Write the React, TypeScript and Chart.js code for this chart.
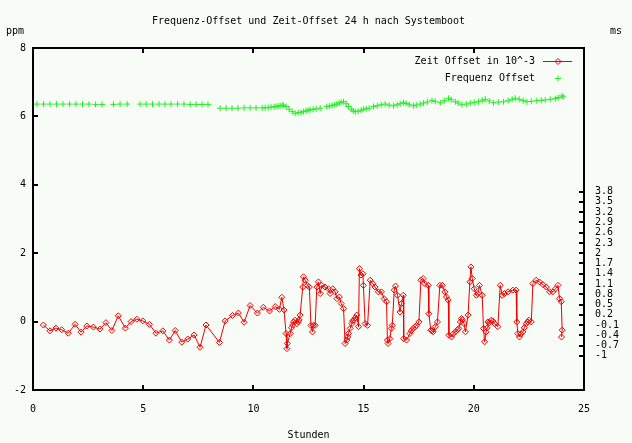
import { useEffect, useRef } from 'react';
import { Chart, registerables } from 'chart.js';

Chart.register(...registerables);

const chartTitle = 'Frequenz-Offset und Zeit-Offset 24 h nach Systemboot';
const xAxisTitle = 'Stunden';
const leftUnit = 'ppm';
const rightUnit = 'ms';
const zeitLabel = 'Zeit Offset in 10^-3';
const freqLabel = 'Frequenz Offset';

const xTicks = [0, 5, 10, 15, 20, 25];
const yTicks = [-2, 0, 2, 4, 6, 8];
const y2Ticks = [-1, -0.7, -0.4, -0.1, 0.2, 0.5, 0.8, 1.1, 1.4, 1.7, 2, 2.3, 2.6, 2.9, 3.2, 3.5, 3.8];

const zeitHours = [
  0.47, 0.77, 1.04, 1.30, 1.60, 1.91, 2.18, 2.44, 2.74, 3.04, 3.31, 3.58, 3.87, 4.19, 4.45, 4.71, 4.98, 5.28, 5.58, 5.89,
  6.19, 6.45, 6.75, 7.02, 7.31, 7.58, 7.85, 8.46, 8.72, 9.05, 9.32, 9.58, 9.85, 10.18, 10.45, 10.73, 10.99, 11.18, 11.29, 11.39,
  11.48, 11.52, 11.54, 11.67, 11.73, 11.78, 11.82, 11.89, 11.97, 12.04, 12.07, 12.12,
  12.24, 12.27, 12.35, 12.45, 12.54,
  12.61, 12.68, 12.72, 12.80,
  12.88, 12.95, 13.03, 13.10, 13.25, 13.40, 13.48, 13.60, 13.71, 13.79, 13.90, 13.98, 14.09,
  14.16, 14.24, 14.28, 14.31, 14.39, 14.47, 14.50, 14.57, 14.62, 14.69, 14.77,
  14.81, 14.88, 14.97, 14.99,
  15.07, 15.18,
  15.30, 15.42, 15.52, 15.67, 15.81, 15.93, 16.04,
  16.08, 16.11, 16.19, 16.26, 16.30,
  16.39, 16.45, 16.54, 16.65, 16.72, 16.80,
  16.82, 16.95, 17.10, 17.16, 17.25, 17.34, 17.40, 17.51,
  17.60, 17.70, 17.78, 17.93,
  17.96, 18.05, 18.11, 18.16, 18.26, 18.35,
  18.46, 18.57, 18.69, 18.76, 18.84,
  18.87, 18.99, 19.07, 19.17, 19.26, 19.32, 19.39, 19.44, 19.48, 19.56, 19.62, 19.74,
  19.82, 19.87, 19.93, 20.02, 20.12, 20.18, 20.26, 20.38,
  20.44, 20.49, 20.56, 20.60, 20.64, 20.70, 20.79, 20.86, 20.94, 21.09,
  21.20, 21.29, 21.39, 21.55, 21.77, 21.92,
  21.95, 22.00, 22.07, 22.15, 22.23, 22.29, 22.38, 22.45, 22.50, 22.61,
  22.68, 22.83, 22.98, 23.14, 23.29, 23.44, 23.59, 23.71, 23.82, 23.89, 23.97,
  24.01, 23.98,
];

const zeitValues = [
  -0.10, -0.27, -0.19, -0.24, -0.34, -0.08, -0.31, -0.13, -0.16, -0.22, -0.03, -0.26, 0.17, -0.19, 0.00, 0.07, 0.02, -0.08, -0.34, -0.27,
  -0.54, -0.26, -0.60, -0.51, -0.39, -0.75, -0.10, -0.61, 0.02, 0.18, 0.25, -0.02, 0.47, 0.25, 0.42, 0.31, 0.44, 0.36, 0.71, 0.34,
  -0.35, -0.79, -0.64, -0.35, -0.18, -0.10, -0.01, 0.04, -0.06, -0.01, 0.05, 0.19,
  1.01, 1.31, 1.21, 1.06, 1.01,
  -0.11, -0.30, -0.11, -0.11,
  1.01, 1.16, 0.82, 1.06, 1.01, 0.96, 0.82, 0.96, 0.87, 0.67, 0.72, 0.53, 0.38,
  -0.64, -0.54, -0.45, -0.35, -0.20, -0.06, 0.02, 0.04, 0.11, 0.19, -0.15,
  1.55, 1.36, 1.40, 1.06,
  -0.06, -0.11,
  1.21, 1.11, 1.01, 0.87, 0.87, 0.67, 0.58,
  -0.54, -0.64, -0.50, -0.20, -0.11,
  0.92, 1.04, 0.77, 0.28, 0.53, 0.77,
  -0.50, -0.54, -0.35, -0.27, -0.20, -0.15, -0.11, -0.01,
  1.21, 1.26, 1.11, 1.06,
  0.23, -0.25, -0.27, -0.30, -0.15, -0.01,
  1.06, 1.06, 0.87, 0.72, 0.63,
  -0.40, -0.45, -0.36, -0.30, -0.24, -0.20, -0.01, 0.09, 0.05, -0.06, -0.30, 0.19,
  1.16, 1.60, 1.26, 0.96, 0.77, 0.82, 1.06, 0.77,
  -0.20, -0.59, -0.30, -0.18, -0.01, -0.03, 0.04, 0.02, -0.06, -0.15,
  1.06, 0.77, 0.82, 0.87, 0.92, 0.92,
  -0.01, -0.35, -0.45, -0.36, -0.30, -0.18, -0.06, -0.01, 0.04, -0.01,
  1.11, 1.21, 1.16, 1.08, 1.01, 0.87, 0.87, 0.96, 1.06, 0.67, 0.58,
  -0.25, -0.45,
];

const freqHours = [
  0.18, 0.48, 0.77, 1.07, 1.36, 1.66, 1.95, 2.25, 2.54, 2.84, 3.13,
  3.65, 3.95, 4.27,
  4.86, 5.13, 5.42, 5.72, 5.99, 6.26, 6.56, 6.85, 7.13, 7.40, 7.67, 7.94,
  8.49, 8.76, 9.03, 9.30, 9.58, 9.85, 10.12, 10.40,
  10.53, 10.67, 10.80, 10.94, 11.03, 11.12, 11.21, 11.30, 11.36, 11.48, 11.62, 11.76, 11.89, 12.03, 12.16, 12.27, 12.39, 12.48,
  12.57, 12.71, 12.85, 13.03,
  13.33, 13.44, 13.57, 13.69, 13.79, 13.89, 13.98, 14.09,
  14.21, 14.31, 14.44, 14.53, 14.62, 14.75, 14.89, 14.99, 15.12, 15.25,
  15.45, 15.62, 15.80, 15.98,
  16.16, 16.36, 16.52, 16.66, 16.81,
  16.93, 17.07, 17.26, 17.39, 17.57, 17.72, 17.89, 18.10,
  18.25, 18.48, 18.66, 18.85,
  18.97, 19.16, 19.29, 19.46,
  19.66, 19.84, 20.02, 20.21, 20.38, 20.52,
  20.70, 20.89, 21.11, 21.35, 21.56, 21.74, 21.88,
  22.06, 22.24, 22.41, 22.61, 22.86, 23.06, 23.24, 23.47, 23.70, 23.83, 24.00, 24.06,
];

const freqValues = [
  6.36, 6.36, 6.36, 6.36, 6.36, 6.36, 6.36, 6.36, 6.36, 6.35, 6.35,
  6.35, 6.36, 6.36,
  6.36, 6.36, 6.36, 6.36, 6.36, 6.36, 6.36, 6.36, 6.35, 6.35, 6.35, 6.35,
  6.24, 6.24, 6.24, 6.24, 6.25, 6.25, 6.25, 6.25,
  6.25, 6.26, 6.27, 6.28, 6.29, 6.30, 6.31, 6.32, 6.33, 6.29, 6.21, 6.14, 6.09, 6.11, 6.12, 6.14, 6.16, 6.18,
  6.19, 6.21, 6.22, 6.24,
  6.29, 6.30, 6.32, 6.34, 6.36, 6.39, 6.41, 6.43,
  6.37, 6.29, 6.21, 6.16, 6.14, 6.15, 6.18, 6.21, 6.22, 6.24,
  6.29, 6.31, 6.34, 6.36,
  6.33, 6.31, 6.34, 6.37, 6.40,
  6.38, 6.34, 6.31, 6.33, 6.36, 6.39, 6.42, 6.46,
  6.44, 6.40, 6.46, 6.53,
  6.49, 6.43, 6.39, 6.34,
  6.36, 6.39, 6.41, 6.43, 6.47, 6.50,
  6.45, 6.40, 6.42, 6.43, 6.46, 6.50, 6.53,
  6.50, 6.46, 6.43, 6.44, 6.46, 6.47, 6.48, 6.50, 6.52, 6.55, 6.60, 6.57,
];

const FONT_FAMILY = '"DejaVu Sans Mono", "Liberation Mono", monospace';
const FONT = `10px ${FONT_FAMILY}`;
const BG = '#f7fcf7';
const RED = '#f00000';
const GREEN = '#22ee22';

function diamond(ctx: CanvasRenderingContext2D, x: number, y: number, r: number) {
  ctx.beginPath();
  ctx.moveTo(x, y - r);
  ctx.lineTo(x + r, y);
  ctx.lineTo(x, y + r);
  ctx.lineTo(x - r, y);
  ctx.closePath();
  ctx.stroke();
}

const decorPlugin = {
  id: 'decor',
  beforeDraw(chart: any) {
    const { ctx, width, height } = chart;
    ctx.save();
    ctx.fillStyle = BG;
    ctx.fillRect(0, 0, width, height);
    ctx.restore();
  },
  afterDatasetsDraw(chart: any) {
    const { ctx, chartArea: a, scales } = chart;
    ctx.save();
    ctx.strokeStyle = '#000';
    ctx.lineWidth = 2;
    ctx.strokeRect(a.left, a.top, a.right - a.left, a.bottom - a.top);
    ctx.beginPath();
    for (const v of xTicks) {
      const px = Math.round(scales.x.getPixelForValue(v));
      ctx.moveTo(px, a.bottom);
      ctx.lineTo(px, a.bottom - 5);
      ctx.moveTo(px, a.top);
      ctx.lineTo(px, a.top + 5);
    }
    for (const v of yTicks) {
      const py = Math.round(scales.y.getPixelForValue(v));
      ctx.moveTo(a.left, py);
      ctx.lineTo(a.left + 5, py);
    }
    for (const v of y2Ticks) {
      const py = Math.round(scales.y2.getPixelForValue(v));
      ctx.moveTo(a.right, py);
      ctx.lineTo(a.right - 5, py);
    }
    ctx.stroke();

    ctx.fillStyle = '#000';
    ctx.font = FONT;
    ctx.textBaseline = 'middle';
    ctx.textAlign = 'center';
    const cx = (a.left + a.right) / 2;
    ctx.fillText(chartTitle, cx, 21);
    ctx.fillText(leftUnit, 15, 31);
    ctx.fillText(rightUnit, 616, 31);
    ctx.fillText(xAxisTitle, cx, 435);

    // legend
    ctx.textAlign = 'right';
    const lx = a.right - 49;
    ctx.fillText(zeitLabel, lx, 61);
    ctx.fillText(freqLabel, lx, 78);
    ctx.strokeStyle = RED;
    ctx.lineWidth = 1;
    ctx.beginPath();
    ctx.moveTo(lx + 8, 61.5);
    ctx.lineTo(lx + 37, 61.5);
    ctx.stroke();
    diamond(ctx, lx + 23, 61.5, 3);
    ctx.strokeStyle = GREEN;
    ctx.beginPath();
    ctx.moveTo(lx + 20, 78.5);
    ctx.lineTo(lx + 26, 78.5);
    ctx.moveTo(lx + 23, 75.5);
    ctx.lineTo(lx + 23, 81.5);
    ctx.stroke();
    ctx.restore();
  },
};

export default function App() {
  const ref = useRef<HTMLCanvasElement | null>(null);

  useEffect(() => {
    if (!ref.current) return;
    const tickFont = { family: FONT_FAMILY, size: 10 };
    const chart = new Chart(ref.current, {
      type: 'scatter',
      data: {
        datasets: [
          {
            label: zeitLabel,
            data: zeitHours.map((x, i) => ({ x, y: zeitValues[i] })),
            showLine: true,
            borderColor: RED,
            borderWidth: 1,
            pointStyle: 'rectRot',
            pointRadius: 3,
            pointBorderColor: RED,
            pointBackgroundColor: 'rgba(0,0,0,0)',
            pointBorderWidth: 1,
            tension: 0,
            yAxisID: 'y',
          },
          {
            label: freqLabel,
            data: freqHours.map((x, i) => ({ x, y: freqValues[i] })),
            showLine: false,
            pointStyle: 'cross',
            pointRadius: 3,
            pointBorderColor: GREEN,
            pointBackgroundColor: GREEN,
            pointBorderWidth: 1,
            yAxisID: 'y',
          },
        ],
      },
      options: {
        responsive: false,
        animation: false,
        devicePixelRatio: 1,
        events: [],
        layout: { padding: { top: 48, left: 0, right: 0, bottom: 0 } },
        plugins: {
          legend: { display: false },
          tooltip: { enabled: false },
          title: { display: false },
        },
        scales: {
          x: {
            type: 'linear',
            position: 'bottom',
            min: 0,
            max: 25,
            grid: { display: false, drawTicks: false },
            border: { display: false },
            afterBuildTicks: (s: any) => {
              s.ticks = xTicks.map((v) => ({ value: v }));
            },
            afterFit: (s: any) => {
              s.height = 53;
            },
            ticks: {
              padding: 13,
              font: tickFont,
              color: '#000',
              maxRotation: 0,
              autoSkip: false,
              callback: (v: any) => String(v),
            },
          },
          y: {
            type: 'linear',
            position: 'left',
            min: -2,
            max: 8,
            grid: { display: false, drawTicks: false },
            border: { display: false },
            afterBuildTicks: (s: any) => {
              s.ticks = yTicks.map((v) => ({ value: v }));
            },
            afterFit: (s: any) => {
              s.width = 33;
            },
            ticks: {
              padding: 7,
              font: tickFont,
              color: '#000',
              autoSkip: false,
              callback: (v: any) => String(v),
            },
          },
          y2: {
            type: 'linear',
            position: 'right',
            min: -2,
            max: 8,
            grid: { display: false, drawTicks: false },
            border: { display: false },
            afterBuildTicks: (s: any) => {
              s.ticks = y2Ticks.map((v) => ({ value: v }));
            },
            afterFit: (s: any) => {
              s.width = 48;
            },
            ticks: {
              padding: 11,
              font: tickFont,
              color: '#000',
              autoSkip: false,
              callback: (v: any) => String(Math.round(Number(v) * 10) / 10),
            },
          },
        },
      },
      plugins: [decorPlugin],
    } as any);
    return () => chart.destroy();
  }, []);

  return (
    <div style={{ position: 'fixed', left: 0, top: 0, width: 632, height: 443 }}>
      <canvas ref={ref} width={632} height={443} style={{ display: 'block' }} />
    </div>
  );
}
